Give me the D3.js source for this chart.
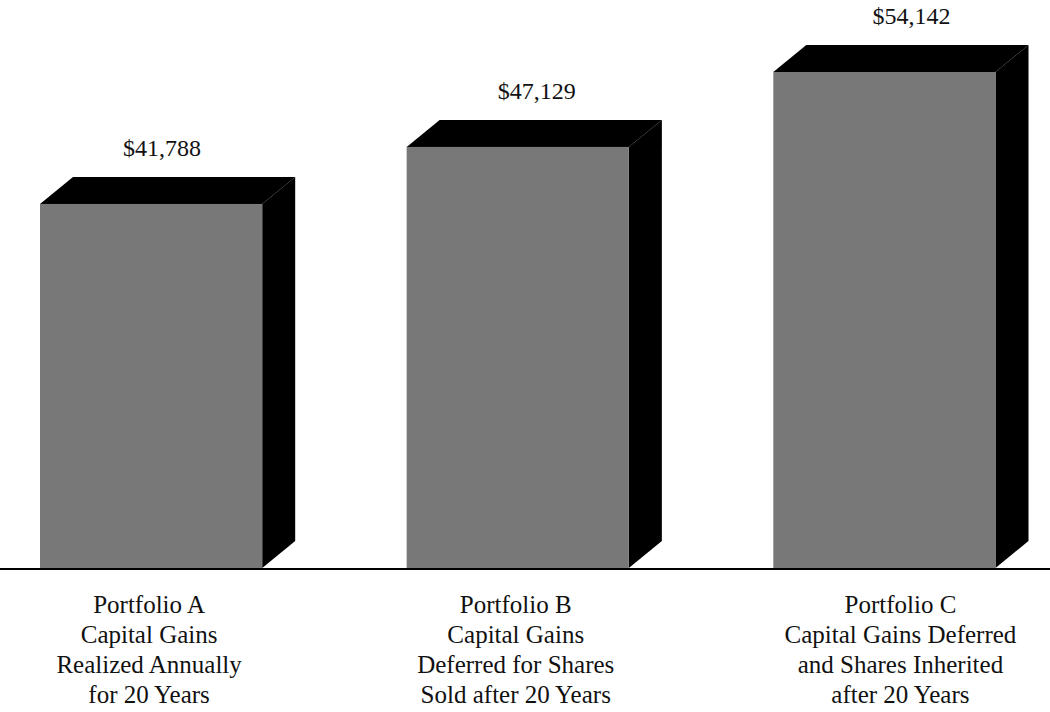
<!DOCTYPE html>
<html>
<head>
<meta charset="utf-8">
<script src="https://cdn.jsdelivr.net/npm/d3@7"></script>
<style>
  body { margin: 0; background: #fff; }
  text { font-family: "Liberation Serif", "DejaVu Serif", serif; fill: #111; }
</style>
</head>
<body>
<svg width="1050" height="712"></svg>
<script>
// data
const portfolios = ["A", "B", "C"];
const values = [41788, 47129, 54142];
const valueLabels = ["$41,788", "$47,129", "$54,142"];
const categoryLines = [
  ["Portfolio A", "Capital Gains", "Realized Annually", "for 20 Years"],
  ["Portfolio B", "Capital Gains", "Deferred for Shares", "Sold after 20 Years"],
  ["Portfolio C", "Capital Gains Deferred", "and Shares Inherited", "after 20 Years"]
];

const svg = d3.select("svg"),
    width = +svg.attr("width"),
    height = +svg.attr("height");

const baseY = 568;   // the floor line
const depthX = 33, depthY = 27;  // fake 3d offset

// x: one band per portfolio (front face of each box)
const x = d3.scaleBand()
    .domain(portfolios)
    .range([40, 995.5])
    .paddingInner(0.394)
    .paddingOuter(0);

// y: the original is not drawn from zero, so fit a domain that matches
const y = d3.scaleLinear()
    .domain([7700, 54142])
    .range([baseY, 72]);

const rows = portfolios.map((p, i) => ({ p: p, i: i, v: values[i], label: valueLabels[i], lines: categoryLines[i] }));

const bars = svg.append("g")
    .selectAll("g")
    .data(rows)
    .enter()
    .append("g");

// right side of the box
bars.append("path")
    .attr("fill", "#000")
    .attr("d", d => {
        const x1 = x(d.p) + x.bandwidth(), t = y(d.v);
        return `M${x1},${t}L${x1 + depthX},${t - depthY}L${x1 + depthX},${baseY - depthY}L${x1},${baseY}Z`;
    });

// top of the box
bars.append("path")
    .attr("fill", "#000")
    .attr("d", d => {
        const x0 = x(d.p), x1 = x0 + x.bandwidth(), t = y(d.v);
        return `M${x0},${t}L${x0 + depthX},${t - depthY}L${x1 + depthX},${t - depthY}L${x1},${t}Z`;
    });

// front face
bars.append("rect")
    .attr("x", d => x(d.p))
    .attr("y", d => y(d.v))
    .attr("width", x.bandwidth())
    .attr("height", d => baseY - y(d.v))
    .attr("fill", "#787878");

// value above each box
bars.append("text")
    .attr("x", d => x(d.p) + x.bandwidth() / 2 + 11 + d.i * 8)
    .attr("y", d => y(d.v) - depthY - 21)
    .attr("text-anchor", "middle")
    .attr("font-size", 24)
    .text(d => d.label);

// floor line
svg.append("line")
    .attr("x1", 0).attr("x2", width)
    .attr("y1", baseY + 1).attr("y2", baseY + 1)
    .attr("stroke", "#000")
    .attr("stroke-width", 2);

// category labels under the line
bars.append("text")
    .attr("text-anchor", "middle")
    .attr("font-size", 25)
    .selectAll("tspan")
    .data(d => d.lines.map(l => ({ l: l, cx: x(d.p) + x.bandwidth() / 2 + (d.p === "C" ? 16 : -2) })))
    .enter()
    .append("tspan")
    .attr("x", d => d.cx)
    .attr("y", (d, i) => 613 + i * 30)
    .text(d => d.l);
</script>
</body>
</html>
